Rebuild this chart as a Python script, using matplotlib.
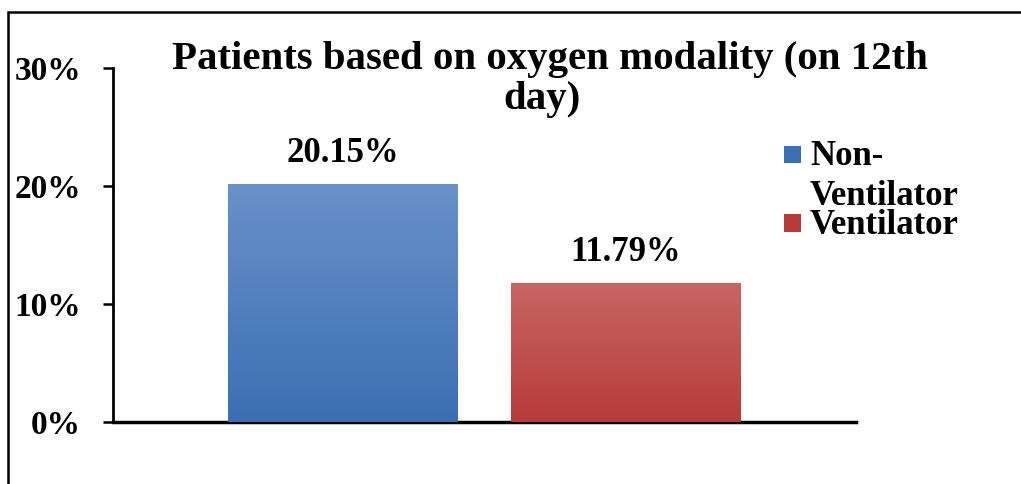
import numpy as np
import matplotlib
matplotlib.use("Agg")
import matplotlib.pyplot as plt
from matplotlib.colors import LinearSegmentedColormap
from matplotlib.patches import Rectangle

categories = ["Non-\nVentilator", "Ventilator"]
values = [20.15, 11.79]
labels = ["20.15%", "11.79%"]
yticks = [0, 10, 20, 30]
ytick_labels = ["0%", "10%", "20%", "30%"]
title_lines = ["Patients based on oxygen modality (on 12th", "day)"]
top_colors = ["#6a91c9", "#c76663"]
bottom_colors = ["#3b6fb3", "#b83b3a"]

W, H = 1021, 484
fig = plt.figure(figsize=(W / 100, H / 100), dpi=100)
FONT = "Liberation Serif"

ax = fig.add_axes([113 / W, 1 - 421.5 / H, (855.6 - 113) / W, (421.5 - 68) / H])
x = np.arange(len(values))
width = 0.808
bars = ax.bar(x, values, width=width, color=bottom_colors, zorder=2)
for b, tc, bc in zip(bars, top_colors, bottom_colors):
    cmap = LinearSegmentedColormap.from_list("g", [bc, tc])
    grad = np.linspace(0, 1, 256).reshape(-1, 1)
    x0, y0 = b.get_x(), b.get_y()
    im = ax.imshow(grad, cmap=cmap, origin="lower", aspect="auto",
                   extent=[x0, x0 + b.get_width(), y0, y0 + b.get_height()], zorder=3)
    im.set_clip_path(b)

ax.set_xlim(-0.8095, 1.81)
ax.set_ylim(0, 30)
for xi, v, lab in zip(x, values, labels):
    ax.annotate(lab, (xi, v), xytext=(0, 10), textcoords="offset points",
                ha="center", va="bottom", fontsize=25, fontweight="bold", family=FONT)

ax.set_yticks(yticks)
ax.set_yticklabels(ytick_labels, fontsize=24, fontweight="bold", family=FONT)
ax.set_xticks([])
ax.tick_params(axis="y", length=7, width=1.8, pad=16, direction="out")
for s in ["top", "right"]:
    ax.spines[s].set_visible(False)
ax.spines["left"].set_linewidth(2)
ax.spines["bottom"].set_linewidth(2.5)

fig.text(550 / W, 1 - 69 / H, title_lines[0], ha="center", va="baseline", fontsize=29.4,
         fontweight="bold", family=FONT)
fig.text(541.5 / W, 1 - 109 / H, title_lines[1], ha="center", va="baseline", fontsize=29.4,
         fontweight="bold", family=FONT)

# Frame around figure
fig.patches.append(Rectangle((8 / W, -1), 2, 1 + (1 - 12 / H), transform=fig.transFigure,
                             fill=False, edgecolor="black", linewidth=1.8))

# Legend
leg_y = [154, 223]
for c, yy in zip(bottom_colors, leg_y):
    fig.patches.append(Rectangle((784 / W, 1 - (yy + 8.5) / H), 17 / W, 17 / H,
                                 transform=fig.transFigure, facecolor=c, edgecolor="none"))
leg_lines = categories[0].split("\n") + [categories[1]]
leg_base = [165, 205, 234]
for txt, yb in zip(leg_lines, leg_base):
    fig.text(810 / W, 1 - yb / H, txt, ha="left", va="baseline", fontsize=25,
             fontweight="bold", family=FONT)

fig.savefig("out.png", dpi=100)
